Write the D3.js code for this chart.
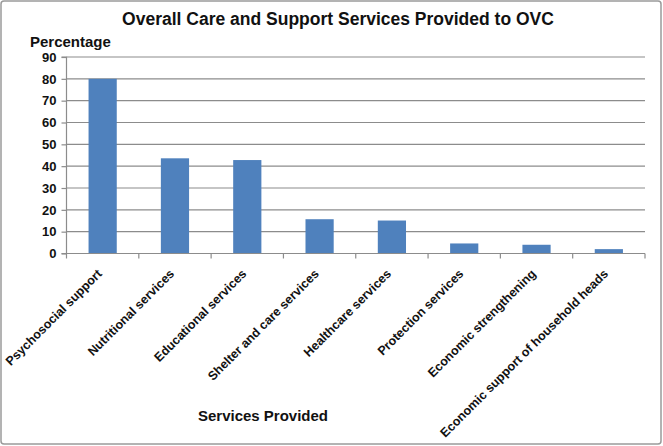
<!DOCTYPE html>
<html>
<head>
<meta charset="utf-8">
<script src="https://cdn.jsdelivr.net/npm/d3@7"></script>
<style>
  body { margin: 0; background: #fff; }
  text { font-family: "Liberation Sans", Arial, sans-serif; font-weight: bold; fill: #111; }
</style>
</head>
<body>
<svg width="663" height="446"></svg>
<script>
// chart data
var services = ["Psychosocial support", "Nutritional services", "Educational services",
  "Shelter and care services", "Healthcare services", "Protection services",
  "Economic strengthening", "Economic support of household heads"];
var percentages = [80, 43.6, 42.8, 15.7, 15.1, 4.6, 4.0, 2.0];
var yTicks = [0, 10, 20, 30, 40, 50, 60, 70, 80, 90];

var svg = d3.select("svg");

// outer frame
svg.append("rect")
  .attr("x", 1).attr("y", 1).attr("width", 660).attr("height", 443)
  .attr("rx", 3)
  .style("fill", "none").style("stroke", "#9a9a9a").style("stroke-width", 1.5);

var plotLeft = 66.5, plotRight = 645, plotTop = 57, plotBottom = 253.5;

var x = d3.scaleBand().domain(services).range([plotLeft, plotRight]).paddingInner(0.61).paddingOuter(0.305);
var xCat = d3.scaleBand().domain(services).range([plotLeft, plotRight]);
var y = d3.scaleLinear().domain([0, 90]).range([plotBottom, plotTop]);

// gridlines
svg.append("g").selectAll("line")
  .data(yTicks.slice(1)).enter()
  .append("line")
  .attr("x1", plotLeft).attr("x2", plotRight)
  .attr("y1", function(d){ return y(d); })
  .attr("y2", function(d){ return y(d); })
  .style("stroke", "#8c8c8c").style("stroke-width", 1.2);

// bars
svg.append("g").selectAll("rect")
  .data(percentages).enter()
  .append("rect")
  .attr("x", function(d, i){ return x(services[i]); })
  .attr("width", x.bandwidth())
  .attr("y", function(d){ return y(d); })
  .attr("height", function(d){ return y(0) - y(d); })
  .style("fill", "#4f81bd");

// y axis
var yAxis = svg.append("g")
  .attr("transform", "translate(" + plotLeft + ",0)")
  .call(d3.axisLeft(y).tickValues(yTicks).tickSize(5).tickPadding(5));
yAxis.selectAll("text").style("font-size", "13px");
yAxis.select(".domain").attr("d", "M-5," + plotBottom + "H0V" + plotTop + "H-5");

// x axis with ticks on category boundaries
var xAxisG = svg.append("g");
xAxisG.append("line")
  .attr("x1", plotLeft).attr("x2", plotRight).attr("y1", plotBottom).attr("y2", plotBottom);
xAxisG.selectAll(".tk")
  .data(services.concat(["end"])).enter()
  .append("line")
  .attr("class", "tk")
  .attr("x1", function(d, i){ return plotLeft + i * xCat.step(); })
  .attr("x2", function(d, i){ return plotLeft + i * xCat.step(); })
  .attr("y1", plotBottom).attr("y2", plotBottom + 5);
svg.selectAll(".domain, .tick line").style("stroke", "#8c8c8c").style("stroke-width", 1.2);
xAxisG.selectAll("line").style("stroke", "#8c8c8c").style("stroke-width", 1.2);

// category labels rotated
svg.append("g").selectAll("text")
  .data(services).enter()
  .append("text")
  .attr("transform", function(d){
    return "translate(" + (xCat(d) + xCat.bandwidth() / 2) + "," + (plotBottom + 21) + ") rotate(-45)";
  })
  .attr("text-anchor", "end")
  .style("font-size", "12.5px")
  .text(function(d){ return d; });

// titles
svg.append("text")
  .attr("x", 338).attr("y", 25)
  .attr("text-anchor", "middle")
  .style("font-size", "17.5px")
  .text("Overall Care and Support Services Provided to OVC");

svg.append("text")
  .attr("x", 30).attr("y", 47)
  .style("font-size", "15px")
  .text("Percentage");

svg.append("text")
  .attr("x", 263).attr("y", 421)
  .attr("text-anchor", "middle")
  .style("font-size", "15px")
  .text("Services Provided");
</script>
</body>
</html>
